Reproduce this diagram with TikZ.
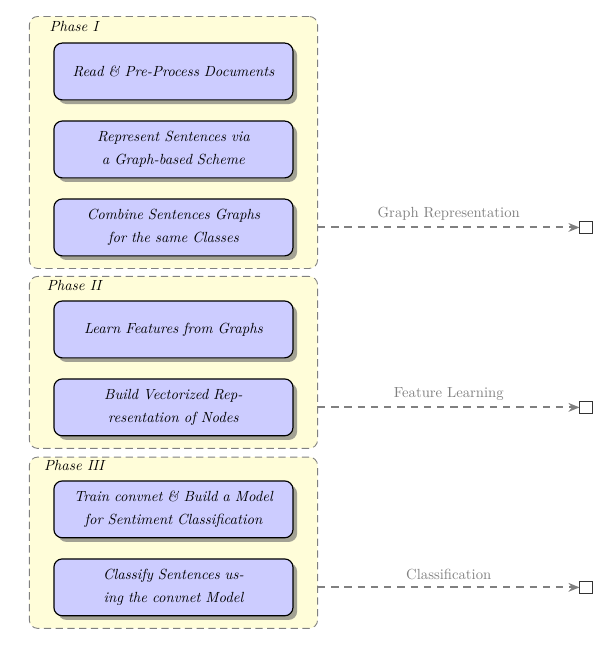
\documentclass[tikz,border=0pt]{standalone}
\usetikzlibrary{shadows,fit,backgrounds,arrows.meta}

\begin{document}
\begin{tikzpicture}
	\tikzstyle{task} = [rectangle, rounded corners=0.2cm, draw=black, thick, fill=blue!20, drop shadow={fill=black!60, opacity=0.6, shadow xshift=2.8pt, shadow yshift=-2.8pt}, minimum width=5.72cm, minimum height=1.36cm, text width=5.4cm, align=center, font={\itshape\linespread{1.3}\selectfont}]
	\tikzstyle{phase} = [rectangle, rounded corners=0.2cm, draw=gray, semithick, dash pattern=on 5pt off 3pt, fill=yellow!15, inner xsep=0.574cm, inner ysep=0.287cm]
	\tikzstyle{plabel} = [anchor=base, inner sep=0pt, font=\itshape]
	\tikzstyle{flow} = [-{Stealth[length=7.5pt,width=6pt]}, line width=1.3pt, gray, dash pattern=on 5pt off 4pt]
	\tikzstyle{sink} = [rectangle, draw=black!80, semithick, fill=white, minimum size=0.29cm, inner sep=0pt]
	
	\useasboundingbox (0,0) rectangle (14.50,-15.48);
	
	% Phase I
	\node[task](b-1) at (4.15,-1.710){Read \& Pre-Process Documents};
	\node[task](b-2) at (4.15,-3.576){Represent Sentences via\\a Graph-based Scheme};
	\node[task](b-3) at (4.15,-5.442){Combine Sentences Graphs\\for the same Classes};
	
	% Phase II
	\node[task](b-4) at (4.15,-7.882){Learn Features from Graphs};
	\node[task](b-5) at (4.15,-9.747){Build Vectorized Rep-\\resentation of Nodes};
	
	% Phase III
	\node[task](b-6) at (4.15,-12.187){Train convnet \& Build a Model\\for Sentiment Classification};
	\node[task](b-7) at (4.15,-14.053){Classify Sentences us-\\ing the convnet Model};
	
	\coordinate (t-1) at ([yshift=0.335cm]b-1.north);
	\coordinate (t-2) at ([yshift=0.287cm]b-4.north);
	\coordinate (t-3) at ([yshift=0.27cm]b-6.north);
	
	\begin{scope}[on background layer]
		\node[phase, fit=(t-1)(b-1)(b-3)](p-1){};
		\node[phase, fit=(t-2)(b-4)(b-5)](p-2){};
		\node[phase, fit=(t-3)(b-6)(b-7)](p-3){};
	\end{scope}
	
	\node[plabel](l-1) at ([xshift=1.08cm,yshift=-0.37cm]p-1.north west){Phase I};
	\node[plabel](l-2) at ([xshift=1.08cm,yshift=-0.34cm]p-2.north west){Phase II};
	\node[plabel](l-3) at ([xshift=1.08cm,yshift=-0.32cm]p-3.north west){Phase III};
	
	\node[sink](o-1) at (14.02,-5.442){};
	\node[sink](o-2) at (14.02,-9.747){};
	\node[sink](o-3) at (14.02,-14.053){};
	
	\draw[flow] (b-3 -| p-1.east) -- node[above, text=gray, yshift=1pt]{Graph Representation} (o-1);
	\draw[flow] (b-5 -| p-2.east) -- node[above, text=gray, yshift=1pt]{Feature Learning} (o-2);
	\draw[flow] (b-7 -| p-3.east) -- node[above, text=gray, yshift=1pt]{Classification} (o-3);
\end{tikzpicture}
\end{document}
